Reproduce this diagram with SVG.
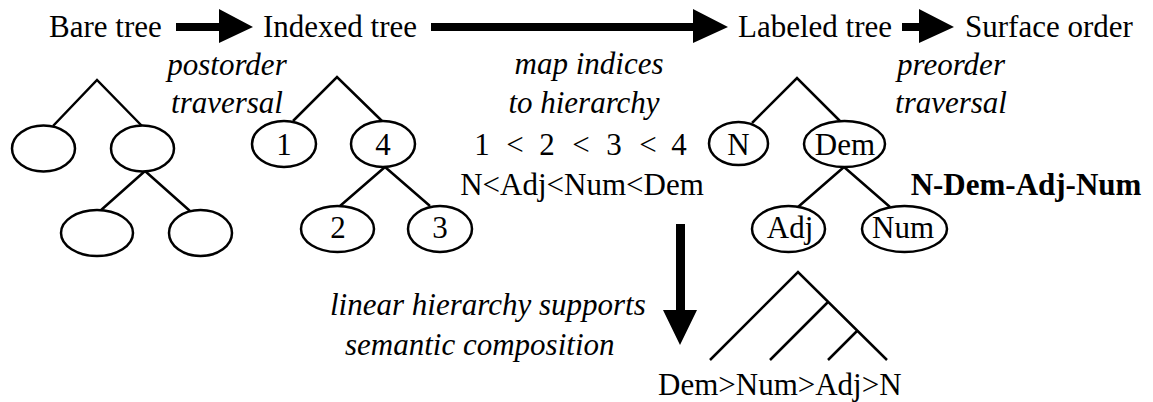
<svg xmlns="http://www.w3.org/2000/svg" width="1153" height="402" viewBox="0 0 1153 402">
<style>
.t{font-family:'Liberation Serif','DejaVu Serif',serif;font-size:31px;fill:#000}
.it{font-style:italic}
.b{font-weight:bold}
.m{text-anchor:middle}
.e{fill:#fff;stroke:#000;stroke-width:2.5}
.l{stroke:#000;stroke-width:2.5;fill:none}
.a{fill:#000}
</style>
<rect width="1153" height="402" fill="#fff"/>
<g id="labels" class="t">
<text x="49" y="37">Bare tree</text>
<text x="263" y="37">Indexed tree</text>
<text x="738" y="37">Labeled tree</text>
<text x="965" y="37">Surface order</text>
<text class="it m" x="227" y="75">postorder</text>
<text class="it m" x="227" y="113">traversal</text>
<text class="it m" x="589" y="74">map indices</text>
<text class="it m" x="584" y="113">to hierarchy</text>
<text class="it m" x="951" y="75">preorder</text>
<text class="it m" x="951" y="113">traversal</text>
<text class="m" x="482" y="155">1</text><text class="m" x="515" y="155">&lt;</text><text class="m" x="547" y="155">2</text><text class="m" x="581" y="155">&lt;</text><text class="m" x="614" y="155">3</text><text class="m" x="648" y="155">&lt;</text><text class="m" x="679" y="155">4</text>
<text class="m" x="582" y="195">N&lt;Adj&lt;Num&lt;Dem</text>
<text class="b m" x="1026" y="195">N-Dem-Adj-Num</text>
<text class="it" x="330" y="315">linear hierarchy supports</text>
<text class="it" x="345" y="355">semantic composition</text>
<text x="658" y="395">Dem&gt;Num&gt;Adj&gt;N</text>
</g>
<g id="connectors">
<path class="a" d="M176 23H219V9L253 27L219 43V31H176Z"/>
<path class="a" d="M431 23H693V9L728 27L693 43V31H431Z"/>
<path class="a" d="M902 23H919V9L954 27L919 43V31H902Z"/>
<path class="a" d="M676 224H685V310H697L680 345L663 310H676Z"/>
</g>
<g id="bare-tree">
<path class="l" d="M53 126L97 80L142 126M100 211L145 171L190 211"/>
<ellipse class="e" cx="43.5" cy="148.5" rx="31.5" ry="23"/>
<ellipse class="e" cx="142.5" cy="148.5" rx="31.5" ry="23"/>
<ellipse class="e" cx="97" cy="233" rx="36" ry="23"/>
<ellipse class="e" cx="200.5" cy="233" rx="31.5" ry="23"/>
</g>
<g id="indexed-tree">
<path class="l" d="M293 121L337 77L382 121M340 206L385 167L430 206"/>
<ellipse class="e" cx="284" cy="144" rx="32" ry="23"/>
<ellipse class="e" cx="383" cy="144" rx="32" ry="23"/>
<ellipse class="e" cx="337.5" cy="229" rx="36.5" ry="23"/>
<ellipse class="e" cx="440" cy="229" rx="32" ry="23"/>
<g class="t m">
<text x="284" y="155">1</text>
<text x="383" y="155">4</text>
<text x="338" y="238">2</text>
<text x="440" y="238">3</text>
</g>
</g>
<g id="labeled-tree">
<path class="l" d="M752 123L797 78L842 123M798 207L844 167L890 207"/>
<ellipse class="e" cx="738.5" cy="143.5" rx="29.5" ry="21.5"/>
<ellipse class="e" cx="844.5" cy="144" rx="40.5" ry="23"/>
<ellipse class="e" cx="788.5" cy="229" rx="36.5" ry="23"/>
<ellipse class="e" cx="904.5" cy="229" rx="42.5" ry="23"/>
<g class="t m">
<text x="738.5" y="155">N</text>
<text x="845" y="155">Dem</text>
<text x="790" y="238">Adj</text>
<text x="903" y="238">Num</text>
</g>
</g>
<g id="hierarchy-tree">
<path class="l" d="M710 360L798 272L887 360M828 302L770 360M857 331L828 360"/>
</g>
</svg>
